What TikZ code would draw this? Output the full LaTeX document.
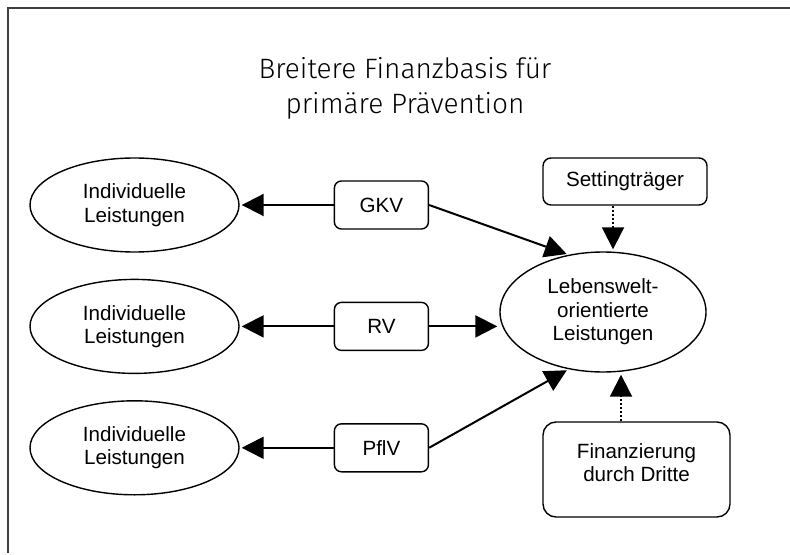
\documentclass[tikz,border=0pt]{standalone}
\usepackage{fontspec}
\setmainfont{Liberation Sans}
\newfontfamily\titlefont{Fira Sans Light}
\usetikzlibrary{arrows.meta,shapes.geometric,positioning}

\tikzset{
  leist/.style={ellipse, draw, line width=0.7pt, minimum width=104.5pt,
    minimum height=47pt, inner sep=0pt, align=center},
  kasse/.style={rectangle, draw, rounded corners=3.5pt, line width=0.7pt,
    minimum width=47pt, minimum height=24pt, inner sep=0pt, align=center},
  titel/.style={align=center, inner sep=0pt,
    font=\titlefont\fontsize{14}{17.5}\selectfont},
  pfeil/.style={->, line width=1pt},
  dotpfeil/.style={->, densely dotted, line width=1pt}
}

\begin{document}
\begin{tikzpicture}[x=0.5pt, y=-0.5pt, >={Triangle[length=11pt,width=11pt]},
    shorten >=1pt, font=\fontsize{10.3}{11.7}\selectfont]
  \useasboundingbox (0,0) rectangle (790,555);
  \draw[line width=1pt, black!75] (790,8) -- (8,8) -- (8,555);

  \node[titel] (titel) at (405,88) {Breitere Finanzbasis für\\primäre Prävention};

  % linke Spalte
  \node[leist] (ind1) at (134.5,205) {Individuelle\\Leistungen};
  \node[leist] (ind2) [below=13pt of ind1] {Individuelle\\Leistungen};
  \node[leist] (ind3) [below=13pt of ind2] {Individuelle\\Leistungen};

  % Traeger
  \node[kasse] (gkv)  [right=47pt of ind1] {GKV};
  \node[kasse] (rv)   [right=47pt of ind2] {RV};
  \node[kasse] (pflv) [right=47pt of ind3] {PflV};

  % rechte Seite
  \node[leist, minimum width=103pt, minimum height=60pt] (lw) at (603,312)
    {Lebenswelt-\\orientierte\\Leistungen};
  \node[kasse, minimum width=82pt, minimum height=23.5pt, rounded corners=4pt]
    (st) at (625,181.5) {Settingträger};
  \node[kasse, minimum width=93.5pt, minimum height=47.5pt, rounded corners=6.5pt,
    text depth=7pt] (fd) at (636.5,469.5) {Finanzierung\\durch Dritte};

  \path[pfeil]
    (gkv)  edge (ind1)
    (rv)   edge (ind2)
    (pflv) edge (ind3)
    (gkv.east)  edge (lw.121)
    (rv.east)   edge (rv.east -| lw.west)
    (pflv.east) edge (lw.239);

  \draw[dotpfeil] ([xshift=-6pt]st.south) -- ([xshift=-6pt]st.south |- lw.north);
  \draw[dotpfeil] ([xshift=-7.75pt]fd.north) -- ([xshift=-7.75pt]fd.north |- lw.south);
\end{tikzpicture}
\end{document}
